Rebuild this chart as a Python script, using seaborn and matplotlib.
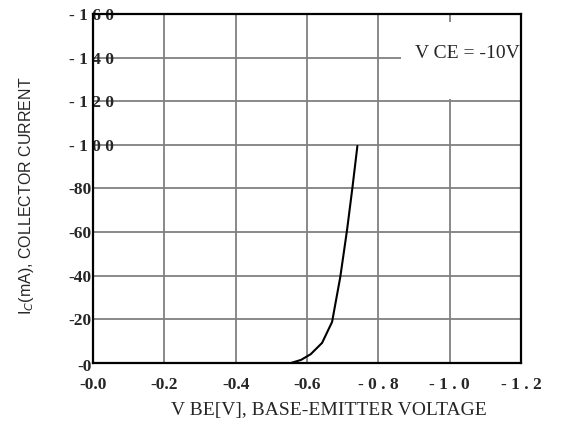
import numpy as np
import matplotlib
matplotlib.use("Agg")
import matplotlib.pyplot as plt
import matplotlib.transforms as mtransforms
from matplotlib.patches import Rectangle
import seaborn as sns

#****************************************
# Values (negative, PNP transistor)
vbe = [-0.555, -0.583, -0.610, -0.642, -0.670, -0.693, -0.712, -0.727, -0.741]
ic = [0.0, -1.4, -4.0, -9.2, -18.8, -39.4, -61.0, -80.3, -99.5]

x_ticks = [0.0, -0.2, -0.4, -0.6, -0.8, -1.0, -1.2]
x_labels = ["-0.0", "-0.2", "-0.4", "-0.6", "- 0 . 8", "- 1 . 0", "- 1 . 2"]
y_ticks = [0, -20, -40, -60, -80, -100, -120, -140, -160]
y_labels = ["-0", "-20", "-40", "-60", "-80", "- 1 0 0", "- 1 2 0", "- 1 4 0", "- 1 6 0"]

#****************************************
sns.set_style("white")
fig = plt.figure(figsize=(5.64, 4.25), dpi=100)
ax = fig.add_axes([0.165, 0.146, 0.759, 0.821])

sns.lineplot(x=vbe, y=ic, ax=ax, color="black", linewidth=1.5, sort=False)

ax.set_xlim(0.0, -1.2)
ax.set_ylim(0, -160)
ax.set_xticks(x_ticks)
ax.set_yticks(y_ticks)
ax.set_xticklabels(x_labels, fontfamily="Liberation Serif", fontweight="bold", fontsize=12.5)
ax.set_yticklabels(y_labels, fontfamily="Liberation Serif", fontweight="bold", fontsize=12.5)
ax.tick_params(axis="x", length=0, pad=10)
ax.tick_params(axis="y", length=0, pad=1)

# the spaced y labels sit over the spine in the original, "-0" sits a bit low
px = 1 / 100
for lab, txt in zip(ax.get_yticklabels(), y_labels):
    if " " in txt:
        lab.set_transform(lab.get_transform() + mtransforms.ScaledTranslation(22 * px, 0, fig.dpi_scale_trans))
    elif txt == "-0":
        lab.set_transform(lab.get_transform() + mtransforms.ScaledTranslation(0, -2 * px, fig.dpi_scale_trans))

ax.grid(True, color="#808080", linewidth=1.3)
for s in ax.spines.values():
    s.set_color("black")
    s.set_linewidth(1.6)

ax.set_xlabel("V BE[V], BASE-EMITTER VOLTAGE", fontfamily="Liberation Serif", fontsize=14)
ax.xaxis.set_label_coords(0.55, -0.113)
ax.set_ylabel("I$_C$(mA), COLLECTOR CURRENT", fontfamily="Liberation Sans", fontsize=11.5)
ax.yaxis.set_label_coords(-0.133, 0.48)

# white patch that breaks the grid behind the condition label
ax.add_patch(Rectangle((-0.863, -121), -0.335, -35.5, facecolor="white", edgecolor="none", zorder=2))
ax.text(-0.903, -142, "V CE = -10V", fontfamily="Liberation Serif", fontsize=14,
        va="center", ha="left", zorder=5)

fig.savefig("out.png", dpi=100)
